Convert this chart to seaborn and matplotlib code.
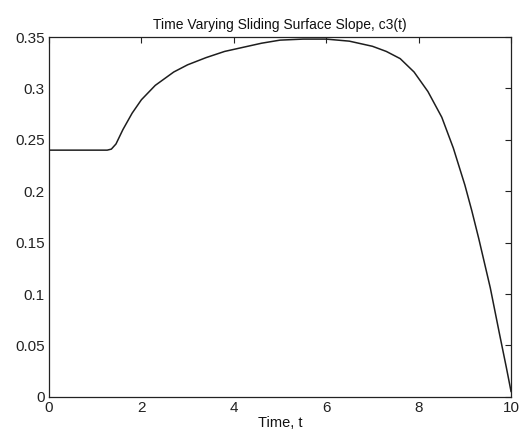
import matplotlib
matplotlib.use("Agg")
import matplotlib.pyplot as plt
import seaborn as sns
import pandas as pd

# values
t = [0, 1.26, 1.35, 1.45, 1.6, 1.8, 2.0, 2.3, 2.7, 3.0, 3.4, 3.8, 4.2, 4.6,
     5.0, 5.5, 6.0, 6.5, 7.0, 7.3, 7.6, 7.9, 8.2, 8.5, 8.75, 9.0, 9.15,
     9.3, 9.55, 9.75, 9.9, 10.0]
c3 = [0.240, 0.240, 0.241, 0.246, 0.260, 0.276, 0.289, 0.303, 0.316, 0.323,
      0.330, 0.336, 0.340, 0.344, 0.347, 0.348, 0.348, 0.346, 0.341, 0.336,
      0.329, 0.316, 0.297, 0.272, 0.242, 0.206, 0.181, 0.154, 0.106, 0.061,
      0.028, 0.005]
x_ticks = [0, 2, 4, 6, 8, 10]
y_ticks = [0, 0.05, 0.1, 0.15, 0.2, 0.25, 0.3, 0.35]
y_labels = ["0", "0.05", "0.1", "0.15", "0.2", "0.25", "0.3", "0.35"]

df = pd.DataFrame({"t": t, "c3": c3})

sns.set_style("white")
plt.rcParams['font.family'] = ['Liberation Sans', 'DejaVu Sans']

fig = plt.figure(figsize=(5.21, 4.41), dpi=100)
ax = fig.add_axes([0.094, 0.1, 0.887, 0.816])

sns.lineplot(data=df, x="t", y="c3", ax=ax, color="#1e1e1e", linewidth=1.1)

ax.set_xlim(0, 10)
ax.set_ylim(0, 0.35)
ax.set_xticks(x_ticks)
ax.set_xticklabels([str(v) for v in x_ticks])
ax.set_yticks(y_ticks)
ax.set_yticklabels(y_labels)
ax.tick_params(direction="in", length=4, width=0.8, colors="#222222",
               labelsize=11, top=True, right=True, pad=3)
for s in ax.spines.values():
    s.set_color("#222222")
    s.set_linewidth(0.9)

ax.set_title("Time Varying Sliding Surface Slope, c3(t)", fontsize=10, pad=6, color="#111111")
ax.set_xlabel("Time, t", fontsize=10.5, labelpad=1, color="#111111")
ax.set_ylabel("")

fig.savefig("out.png", dpi=100, facecolor="white")
